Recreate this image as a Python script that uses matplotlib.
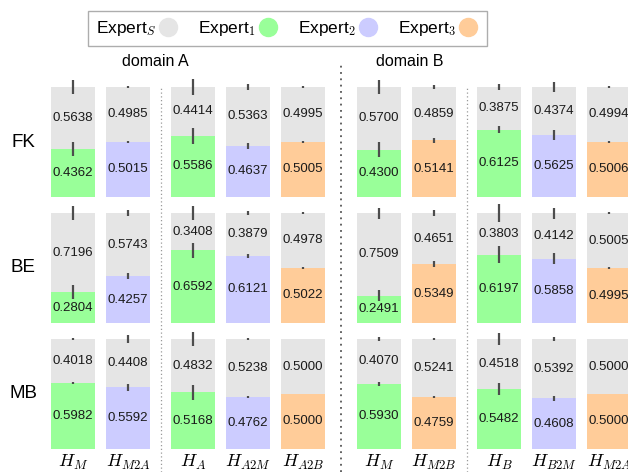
import matplotlib
matplotlib.use("Agg")
import matplotlib.pyplot as plt
from matplotlib.lines import Line2D
import numpy as np

plt.rcParams["font.family"] = ["Liberation Sans", "DejaVu Sans"]
plt.rcParams["mathtext.fontset"] = "cm"

# ---- data -------------------------------------------------------------
rows = ["FK", "BE", "MB"]
heads = [r"$H_{M}$", r"$H_{M2A}$", r"$H_{A}$", r"$H_{A2M}$", r"$H_{A2B}$",
         r"$H_{M}$", r"$H_{M2B}$", r"$H_{B}$", r"$H_{B2M}$", r"$H_{M2A}$"]
# which specific expert each head column belongs to (1, 2 or 3)
head_expert = [1, 2, 1, 2, 3, 1, 3, 1, 2, 3]

expert_fk = [0.4362, 0.5015, 0.5586, 0.4637, 0.5005, 0.4300, 0.5141, 0.6125, 0.5625, 0.5006]
shared_fk = [0.5638, 0.4985, 0.4414, 0.5363, 0.4995, 0.5700, 0.4859, 0.3875, 0.4374, 0.4994]
err_fk = [0.068, 0.012, 0.073, 0.031, 0.008, 0.068, 0.020, 0.030, 0.045, 0.008]

expert_be = [0.2804, 0.4257, 0.6592, 0.6121, 0.5022, 0.2491, 0.5349, 0.6197, 0.5858, 0.4995]
shared_be = [0.7196, 0.5743, 0.3408, 0.3879, 0.4978, 0.7509, 0.4651, 0.3803, 0.4142, 0.5005]
err_be = [0.064, 0.030, 0.067, 0.018, 0.008, 0.050, 0.030, 0.078, 0.050, 0.008]

expert_mb = [0.5982, 0.5592, 0.5168, 0.4762, 0.5000, 0.5930, 0.4759, 0.5482, 0.4608, 0.5000]
shared_mb = [0.4018, 0.4408, 0.4832, 0.5238, 0.5000, 0.4070, 0.5241, 0.4518, 0.5392, 0.5000]
err_mb = [0.008, 0.032, 0.068, 0.010, 0.0, 0.020, 0.010, 0.056, 0.020, 0.0]

legend_labels = [r"Expert$_S$", r"Expert$_1$", r"Expert$_2$", r"Expert$_3$"]
domains = ["domain A", "domain B"]

# ---- styling ----------------------------------------------------------
shared_color = "#e5e5e5"
expert_colors = {1: "#99ff99", 2: "#ccccff", 3: "#ffcc99"}
err_color = "#4d4d4d"

W, H = 628, 472
fig = plt.figure(figsize=(W / 100, H / 100), dpi=100)

# column centres: unit spacing, small gap between head groups, large between domains
gaps = [0, 0, 0.182, 0, 0, 0.382, 0, 0.182, 0, 0]
xpos = np.cumsum([0] + [1 + g for g in gaps[1:]])
bar_w = 0.8
unit_px = 55.0
x0_px = 73.0
xlim = (-x0_px / unit_px, (W - x0_px) / unit_px)

row_top_px = [87, 213, 339]
bar_h_px = 110

data = [(expert_fk, shared_fk, err_fk),
        (expert_be, shared_be, err_be),
        (expert_mb, shared_mb, err_mb)]

axes = []
for r, (exp_v, sh_v, err) in enumerate(data):
    top = 1 - row_top_px[r] / H
    bottom = 1 - (row_top_px[r] + bar_h_px) / H
    ax = fig.add_axes([0, bottom, 1, top - bottom])
    ax.set_xlim(*xlim)
    ax.set_ylim(0, 1)
    for s in ax.spines.values():
        s.set_visible(False)
    ax.set_yticks([])
    colors = [expert_colors[e] for e in head_expert]
    ax.bar(xpos, exp_v, width=bar_w, color=colors, linewidth=0)
    ax.bar(xpos, sh_v, bottom=exp_v, width=bar_w, color=shared_color, linewidth=0)
    tops = np.array(exp_v) + np.array(sh_v)
    ax.errorbar(xpos, exp_v, yerr=err, fmt="none", ecolor=err_color,
                elinewidth=1.6, capsize=0, clip_on=False)
    ax.errorbar(xpos, tops, yerr=err, fmt="none", ecolor=err_color,
                elinewidth=1.6, capsize=0, clip_on=False)
    for x, e, s in zip(xpos, exp_v, sh_v):
        ax.text(x, e / 2, f"{e:.4f}", ha="center", va="center", fontsize=9.5,
                color="#1a1a1a")
        ax.text(x, e + s / 2, f"{s:.4f}", ha="center", va="center", fontsize=9.5,
                color="#1a1a1a")
    fig.text(23.5 / W, (top + bottom) / 2, rows[r], ha="center", va="center",
             fontsize=13.5)
    if r == len(data) - 1:
        ax.set_xticks(xpos)
        ax.set_xticklabels(heads, fontsize=13)
        ax.tick_params(axis="x", length=0, pad=3)
    else:
        ax.set_xticks([])
    axes.append(ax)


def data_to_figx(x):
    return (x - xlim[0]) / (xlim[1] - xlim[0])


# separators between head groups and between domains
minor_seps = [(xpos[1] + xpos[2]) / 2, (xpos[6] + xpos[7]) / 2]
major_sep = (xpos[4] + xpos[5]) / 2
for xs in minor_seps:
    fx = data_to_figx(xs)
    fig.add_artist(Line2D([fx, fx], [0, 1 - 87 / H], transform=fig.transFigure,
                          color="#9a9a9a", lw=0.9, linestyle=(0, (1, 2))))
fx = data_to_figx(major_sep)
fig.add_artist(Line2D([fx, fx], [0, 1 - 65 / H], transform=fig.transFigure,
                      color="#555555", lw=1.3, linestyle=(0, (1, 2.5))))

# domain titles
fig.text(155 / W, 1 - 62 / H, domains[0], ha="center", va="center", fontsize=11.5)
fig.text(410 / W, 1 - 62 / H, domains[1], ha="center", va="center", fontsize=11.5)

# legend
leg_colors = [shared_color, expert_colors[1], expert_colors[2], expert_colors[3]]
handles = [Line2D([], [], linestyle="none", marker="o", markersize=13,
                  markerfacecolor=c, markeredgecolor=c) for c in leg_colors]
leg = fig.legend(handles, legend_labels, loc="upper left",
                 bbox_to_anchor=(88 / W, 1 - 11 / H), borderaxespad=0,
                 ncol=4, markerfirst=False, frameon=True, fancybox=False,
                 fontsize=12.5, handletextpad=0.0, handlelength=1.3,
                 columnspacing=1.1, borderpad=0.45)
leg.get_frame().set_edgecolor("#999999")
leg.get_frame().set_linewidth(1.0)

fig.savefig("out.png", dpi=100)
